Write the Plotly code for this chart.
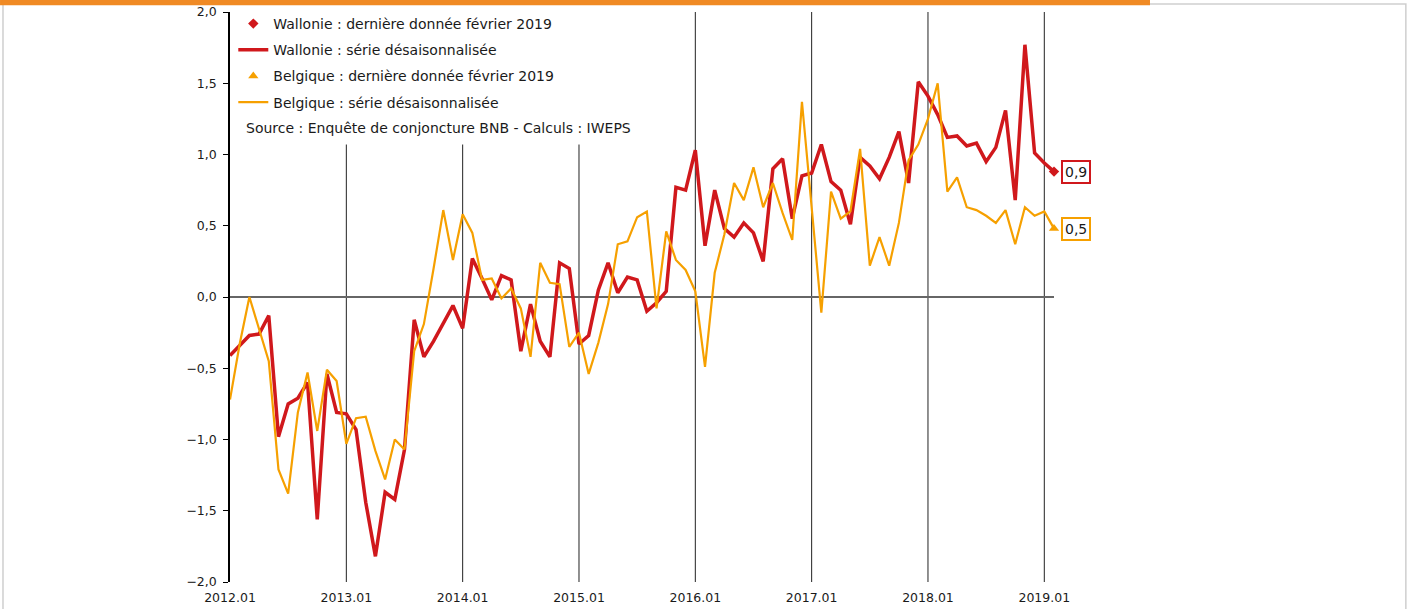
import plotly.graph_objects as go

# ---- Data (monthly, 2012.01 -> 2019.02) ----
months = [f"{y}.{m:02d}" for y in range(2012, 2020) for m in range(1, 13)][:86]

wallonie = [
    -0.41, -0.34, -0.27, -0.26, -0.13, -0.98, -0.75, -0.71, -0.60, -1.56, -0.54, -0.81,
    -0.82, -0.93, -1.44, -1.82, -1.37, -1.42, -1.07, -0.16, -0.42, -0.31, -0.18, -0.06,
    -0.22, 0.27, 0.13, -0.02, 0.15, 0.12, -0.38, -0.05, -0.31, -0.42, 0.24, 0.20,
    -0.33, -0.27, 0.05, 0.24, 0.03, 0.14, 0.12, -0.10, -0.04, 0.04, 0.77, 0.75,
    1.03, 0.36, 0.75, 0.48, 0.42, 0.52, 0.45, 0.25, 0.90, 0.97, 0.55, 0.85,
    0.87, 1.07, 0.81, 0.75, 0.51, 0.98, 0.92, 0.83, 0.98, 1.16, 0.80, 1.51,
    1.41, 1.28, 1.12, 1.13, 1.06, 1.08, 0.95, 1.05, 1.31, 0.68, 1.77, 1.01,
    0.94, 0.88,
]

belgique = [
    -0.72, -0.33, 0.00, -0.23, -0.45, -1.21, -1.38, -0.81, -0.53, -0.94, -0.51, -0.59,
    -1.03, -0.85, -0.84, -1.08, -1.28, -1.00, -1.07, -0.38, -0.19, 0.20, 0.61, 0.26,
    0.58, 0.45, 0.12, 0.13, -0.01, 0.06, -0.08, -0.42, 0.24, 0.10, 0.09, -0.35,
    -0.25, -0.54, -0.32, -0.05, 0.37, 0.39, 0.56, 0.60, -0.08, 0.46, 0.26, 0.19,
    0.04, -0.49, 0.17, 0.44, 0.80, 0.68, 0.91, 0.63, 0.80, 0.59, 0.40, 1.37,
    0.63, -0.11, 0.74, 0.55, 0.60, 1.04, 0.22, 0.42, 0.22, 0.52, 0.96, 1.07,
    1.25, 1.50, 0.74, 0.84, 0.63, 0.61, 0.57, 0.52, 0.61, 0.37, 0.63, 0.57,
    0.60, 0.48,
]

year_ticks = ["2012.01", "2013.01", "2014.01", "2015.01", "2016.01", "2017.01", "2018.01", "2019.01"]
y_ticks = [-2.0, -1.5, -1.0, -0.5, 0.0, 0.5, 1.0, 1.5, 2.0]

RED = "#D0181C"
ORANGE = "#F6A000"
FONT = "DejaVu Sans"
TXT = "#1a1a1a"

fig = go.Figure()

fig.add_trace(go.Scatter(
    x=[months[-1]], y=[wallonie[-1]], mode="markers",
    marker=dict(symbol="diamond", size=8, color=RED),
    name="Wallonie : dernière donnée février 2019", legendgroup="g1", cliponaxis=False,
))
fig.add_trace(go.Scatter(
    x=months, y=wallonie, mode="lines",
    line=dict(color=RED, width=3.5),
    name="Wallonie : série désaisonnalisée", legendgroup="g2", cliponaxis=False,
))
fig.add_trace(go.Scatter(
    x=[months[-1]], y=[belgique[-1]], mode="markers",
    marker=dict(symbol="triangle-up", size=9, color=ORANGE),
    name="Belgique : dernière donnée février 2019", legendgroup="g3", cliponaxis=False,
))
fig.add_trace(go.Scatter(
    x=months, y=belgique, mode="lines",
    line=dict(color=ORANGE, width=2.2),
    name="Belgique : série désaisonnalisée", legendgroup="g4", cliponaxis=False,
))

# vertical year lines (cut under the legend for the first years)
GRID_TOP_UNDER_LEGEND = 1.07
for t in year_ticks[1:]:
    idx = months.index(t)
    top = GRID_TOP_UNDER_LEGEND if t < "2016" else 2.0
    fig.add_shape(type="line", xref="x", yref="y", x0=idx, x1=idx, y0=-2.0, y1=top,
                  line=dict(color="#222222", width=1), layer="below")

# end labels
last = len(months) - 1
for vals, col in [(wallonie, RED), (belgique, ORANGE)]:
    fig.add_annotation(
        x=last, y=vals[-1], xref="x", yref="y",
        text=f"{vals[-1]:.1f}".replace(".", ","), showarrow=False,
        xanchor="left", yanchor="middle", xshift=7,
        font=dict(family=FONT, size=14, color=TXT),
        bordercolor=col, borderwidth=2, borderpad=2, bgcolor="white",
    )

# source text
fig.add_annotation(
    x=0.0165, y=0.7965, xref="paper", yref="paper",
    text="Source : Enquête de conjoncture BNB - Calculs : IWEPS",
    showarrow=False, xanchor="left", yanchor="middle",
    font=dict(family=FONT, size=14, color=TXT),
)

# frame and top orange bar
fig.add_shape(type="rect", xref="paper", yref="paper",
              x0=-0.2755, x1=1.427, y0=-0.06, y1=1.014,
              line=dict(color="#cfcfcf", width=1.5), fillcolor="rgba(0,0,0,0)", layer="below")
fig.add_shape(type="rect", xref="paper", yref="paper",
              x0=-0.2791, x1=1.1165, y0=1.012, y1=1.03,
              line=dict(width=0), fillcolor="#F08A24", layer="above")

fig.update_layout(
    width=1414, height=609,
    margin=dict(l=230, r=360, t=12, b=27, autoexpand=False),
    paper_bgcolor="white", plot_bgcolor="white",
    separators=", ",
    font=dict(family=FONT, size=13, color=TXT),
    showlegend=True,
    legend=dict(
        x=0.004, y=1.007, xanchor="left", yanchor="top",
        bgcolor="rgba(0,0,0,0)", font=dict(family=FONT, size=14, color=TXT),
        traceorder="grouped", tracegroupgap=5,
    ),
    xaxis=dict(
        type="category", categoryorder="array", categoryarray=months,
        range=[0, last], tickmode="array", tickvals=year_ticks, ticktext=year_ticks,
        showgrid=False, showline=False, zeroline=False, ticks="",
        ticklabelstandoff=6, automargin=False,
        tickfont=dict(family=FONT, size=12.5, color=TXT),
    ),
    yaxis=dict(
        range=[-2.0, 2.0], tickmode="array", tickvals=y_ticks, tickformat=".1f",
        showgrid=False, showline=True, linecolor="black", linewidth=1.5,
        ticks="outside", ticklen=5, tickcolor="black", tickwidth=1,
        zeroline=True, zerolinecolor="#666666", zerolinewidth=1.5,
        ticklabelstandoff=4, automargin=False,
        tickfont=dict(family=FONT, size=12.5, color=TXT),
    ),
)

fig.write_html("out.html", config={"displayModeBar": False},
               post_script="document.body.style.margin='0px';")
